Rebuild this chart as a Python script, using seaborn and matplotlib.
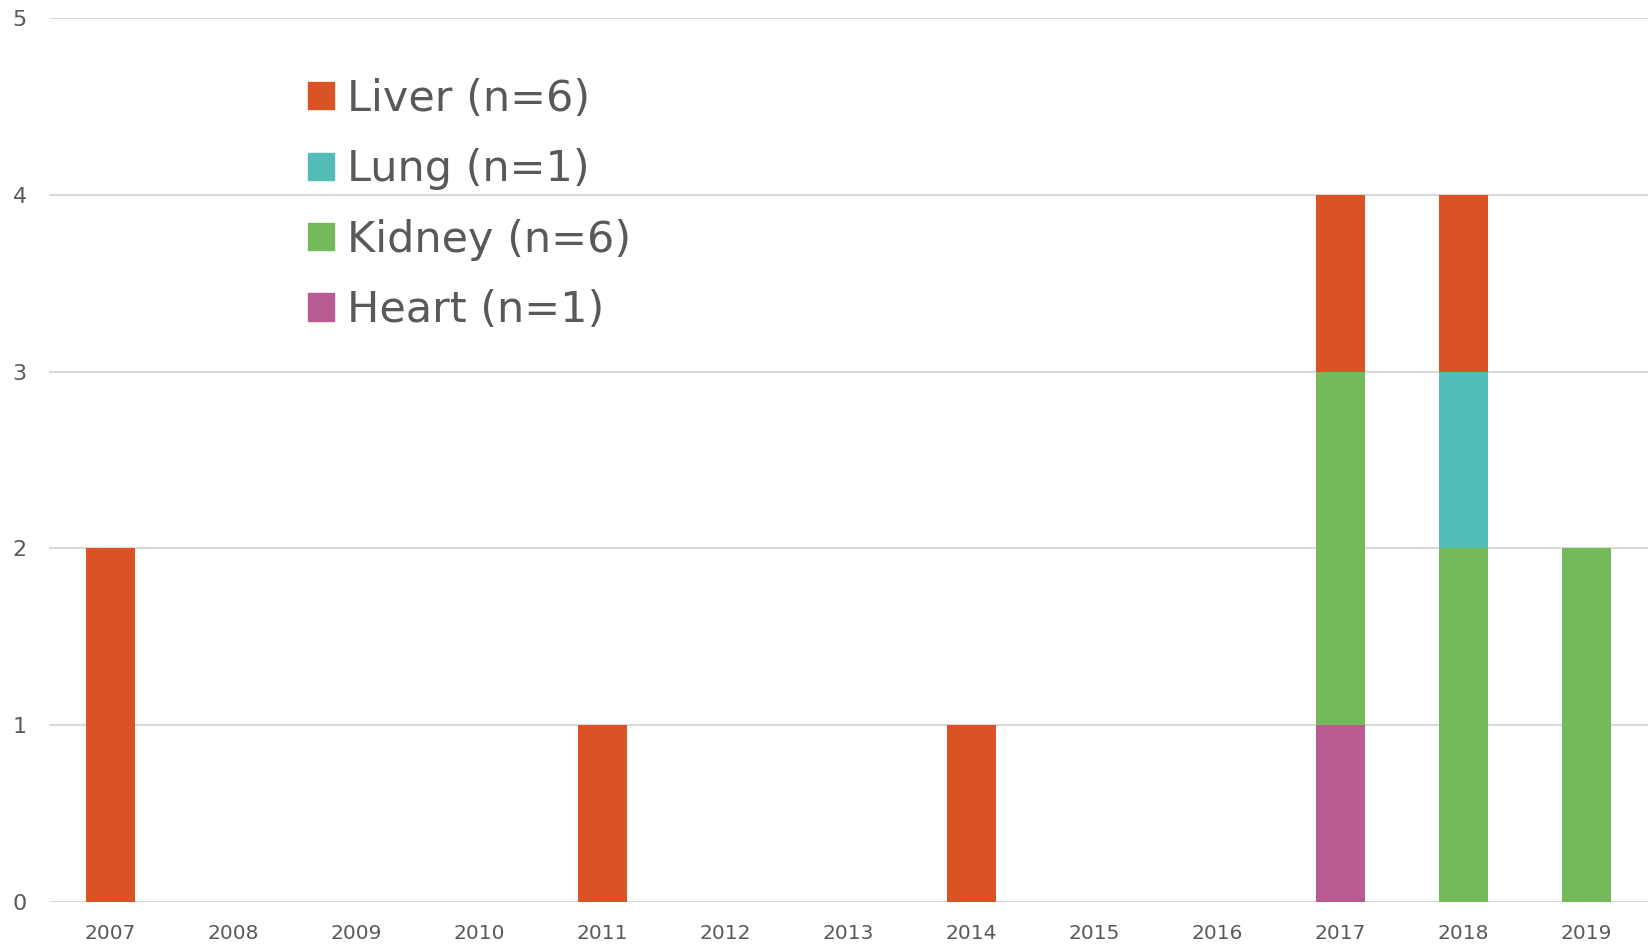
import matplotlib
matplotlib.use("Agg")
import matplotlib.pyplot as plt
import matplotlib.patches as mpatches
import seaborn as sns
import pandas as pd
import numpy as np

years = ["2007", "2008", "2009", "2010", "2011", "2012", "2013",
         "2014", "2015", "2016", "2017", "2018", "2019"]
heart = [0, 0, 0, 0, 0, 0, 0, 0, 0, 0, 1, 0, 0]
kidney = [0, 0, 0, 0, 0, 0, 0, 0, 0, 0, 2, 2, 2]
lung = [0, 0, 0, 0, 0, 0, 0, 0, 0, 0, 0, 1, 0]
liver = [2, 0, 0, 0, 1, 0, 0, 1, 0, 0, 1, 1, 0]

labels = ["Liver (n=6)", "Lung (n=1)", "Kidney (n=6)", "Heart (n=1)"]
colors = {"Liver": "#DA5324", "Lung": "#52BDB6", "Kidney": "#74B95A", "Heart": "#B85B92"}

sns.set_theme(style="white")
plt.rcParams["font.family"] = ["DejaVu Sans"]

df = pd.DataFrame({"year": years, "Heart": heart, "Kidney": kidney,
                   "Lung": lung, "Liver": liver})
stack_order = ["Heart", "Kidney", "Lung", "Liver"]
cum = df[stack_order].cumsum(axis=1)

fig = plt.figure(figsize=(16.51, 9.47), dpi=100)
ax = fig.add_axes([49 / 1651, 45 / 947, 1599 / 1651, 884 / 947])

for name in reversed(stack_order):
    sns.barplot(x=df["year"], y=cum[name], order=years, color=colors[name],
                width=0.4, saturation=1, errorbar=None, linewidth=0, ax=ax,
                zorder=3)

ax.set_xlim(-0.5, len(years) - 0.5)
ax.set_ylim(0, 5)
ax.set_yticks([0, 1, 2, 3, 4, 5])
ax.set_xlabel("")
ax.set_ylabel("")
ax.grid(axis="y", color="#D9D9D9", linewidth=1.5, zorder=0)
ax.grid(axis="x", visible=False)
ax.set_axisbelow(True)
for s in ax.spines.values():
    s.set_visible(False)
ax.tick_params(axis="both", length=0, colors="#595959")
ax.tick_params(axis="x", pad=16, labelsize=14.5)
ax.tick_params(axis="y", pad=16, labelsize=16)

handles = [mpatches.Patch(color=colors[k]) for k in ["Liver", "Lung", "Kidney", "Heart"]]
leg = fig.legend(handles, labels, loc="upper left", bbox_to_anchor=(308 / 1651, 1 - 78 / 947),
                 frameon=False, fontsize=31, handlelength=0.6, handleheight=0.6,
                 handletextpad=0.3, labelspacing=0.66, borderpad=0, borderaxespad=0)
for t in leg.get_texts():
    t.set_color("#595959")

fig.savefig("out.png", dpi=100)
